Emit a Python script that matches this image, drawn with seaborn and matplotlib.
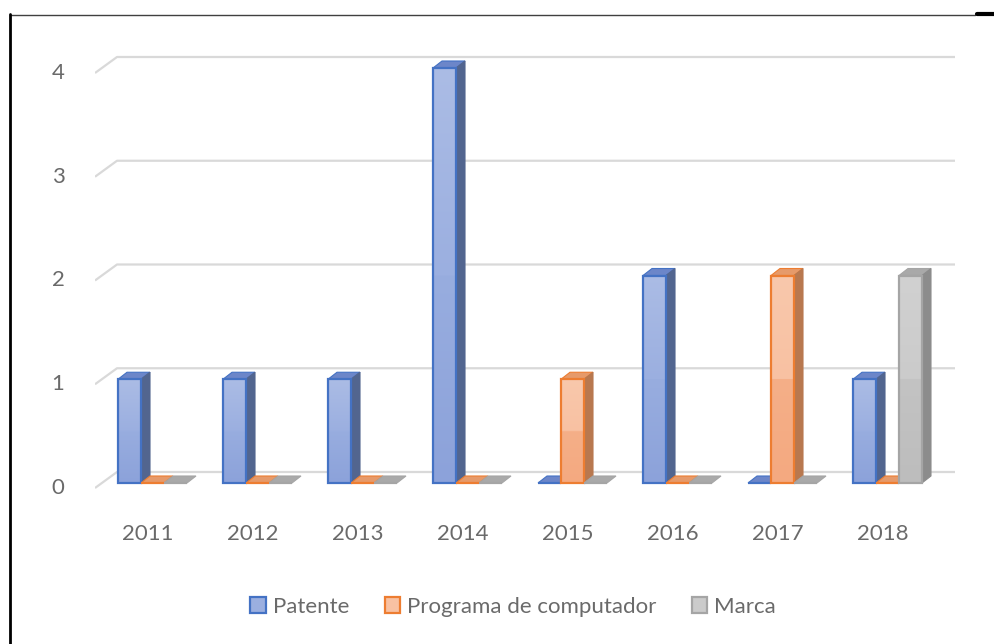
import matplotlib
matplotlib.use("Agg")
import matplotlib.pyplot as plt
import seaborn as sns
import pandas as pd
import numpy as np
from matplotlib.patches import Polygon, Patch
from matplotlib.lines import Line2D
from matplotlib.transforms import ScaledTranslation
from matplotlib.colors import to_rgb

# ---------------- data ----------------
years = ["2011", "2012", "2013", "2014", "2015", "2016", "2017", "2018"]
patente = [1, 1, 1, 4, 0, 2, 0, 1]
programa = [0, 0, 0, 0, 1, 0, 2, 0]
marca = [0, 0, 0, 0, 0, 0, 0, 2]
series_names = ["Patente", "Programa de computador", "Marca"]
y_ticks = [0, 1, 2, 3, 4]

df = pd.DataFrame({
    "Año": years * 3,
    "Valor": patente + programa + marca,
    "Tipo": [series_names[0]] * 8 + [series_names[1]] * 8 + [series_names[2]] * 8,
})

# ---------------- style ----------------
sns.set_style("white")
plt.rcParams["font.family"] = ["Lato", "DejaVu Sans"]
TXT = "#6a6a6a"

front = ["#9DB0E0", "#F6B690", "#C6C6C6"]
edges = ["#4472C4", "#ED7D31", "#A5A5A5"]
sides = ["#52658F", "#B8784F", "#8C8C8C"]
tops = ["#6C86C9", "#E69A6A", "#A9A9A9"]
# gradient stops: bottom, below-mid, above-mid, top
grad = [
    ["#8CA2DA", "#98ADDF", "#9BAFE0", "#ABBCE5"],
    ["#F4A980", "#F5AF88", "#F8C1A2", "#F9C8AC"],
    ["#BDBDBD", "#C3C3C3", "#CBCBCB", "#D1D1D1"],
]

W, H = 994, 644
fig = plt.figure(figsize=(W / 100, H / 100), dpi=100)

# geometry (pixels)
ax_left, ax_right = 95, 955
ax_top, ax_bot = 40, 500
y0_px = 483.0
px_per_y = 103.75
c0_px, step_px = 152.5, 105.0

xlim = ((ax_left - c0_px) / step_px, 7 + (ax_right - (c0_px + 7 * step_px)) / step_px)
ylim = (-(ax_bot - y0_px) / px_per_y, (y0_px - ax_top) / px_per_y)

ax = fig.add_axes([ax_left / W, 1 - ax_bot / H, (ax_right - ax_left) / W, (ax_bot - ax_top) / H])

sns.barplot(data=df, x="Año", y="Valor", hue="Tipo", palette=front, width=0.657,
            saturation=1, legend=False, ax=ax, zorder=3, linewidth=1.6, gap=0)

ax.set_xlim(*xlim)
ax.set_ylim(*ylim)

dx = 9 / step_px
dy = 7 / px_per_y


def gradient_img(stops, n=200):
    c = [np.array(to_rgb(s)) for s in stops]
    rows = []
    for k in range(n):
        t = k / (n - 1)  # 0 bottom, 1 top
        if t < 0.5:
            u = t / 0.5
            rows.append(c[0] * (1 - u) + c[1] * u)
        else:
            u = (t - 0.5) / 0.5
            rows.append(c[2] * (1 - u) + c[3] * u)
    arr = np.array(rows[::-1])[:, None, :]
    return arr


for i, cont in enumerate(ax.containers):
    for bar in cont:
        bar.set_edgecolor(edges[i])
        bar.set_facecolor("none")
        bar.set_zorder(5)
        x0, w, h = bar.get_x(), bar.get_width(), bar.get_height()
        top = Polygon([(x0, h), (x0 + w, h), (x0 + w + dx, h + dy), (x0 + dx, h + dy)],
                      closed=True, facecolor=tops[i], edgecolor=edges[i], lw=0.8, zorder=3)
        ax.add_patch(top)
        if h > 0:
            side = Polygon([(x0 + w, 0), (x0 + w + dx, dy), (x0 + w + dx, h + dy), (x0 + w, h)],
                           closed=True, facecolor=sides[i], edgecolor=sides[i], lw=0.8, zorder=3)
            ax.add_patch(side)
            ax.imshow(gradient_img(grad[i]), extent=(x0, x0 + w, 0, h), aspect="auto",
                      interpolation="bilinear", zorder=4)

# 3D-style gridlines (back wall + floor diagonal)
back_dx = 22 / step_px
back_dy = 11 / px_per_y
front_dy = -5 / px_per_y
for v in y_ticks:
    ax.plot([xlim[0], xlim[0] + back_dx, xlim[1]],
            [v + front_dy, v + back_dy, v + back_dy],
            color="#d9d9d9", lw=1.6, zorder=1, solid_capstyle="butt")

ax.set_xlim(*xlim)
ax.set_ylim(*ylim)
ax.set_aspect("auto")

for s in ax.spines.values():
    s.set_visible(False)
ax.grid(False)
ax.set_xlabel("")
ax.set_ylabel("")
ax.set_yticks(y_ticks)
ax.set_yticklabels([str(v) for v in y_ticks])
ax.tick_params(axis="y", length=0, pad=22, labelsize=16, labelcolor=TXT)
ax.tick_params(axis="x", length=0, pad=17, labelsize=16, labelcolor=TXT)
off = ScaledTranslation(-5 / 100, 0, fig.dpi_scale_trans)
for lab in ax.get_xticklabels():
    lab.set_transform(lab.get_transform() + off)
yoff = ScaledTranslation(0, -3 / 100, fig.dpi_scale_trans)
for lab in ax.get_yticklabels():
    lab.set_transform(lab.get_transform() + yoff)

# legend
handles = [Patch(facecolor=grad[i][2], edgecolor=edges[i], lw=1.6, label=series_names[i]) for i in range(3)]
fig.legend(handles=handles, loc="center", bbox_to_anchor=(513 / W, 1 - 607 / H), ncol=3,
           frameon=False, fontsize=16, labelcolor=TXT, handlelength=0.7, handleheight=0.7,
           handletextpad=0.3, columnspacing=1.6)

# chart border fragments
fig.add_artist(Line2D([10 / W, 975 / W], [1 - 15 / H, 1 - 15 / H], color="#404040", lw=1.0,
                      transform=fig.transFigure))
fig.add_artist(Line2D([10 / W, 10 / W], [1 - 14 / H, 0], color="black", lw=2.0,
                      transform=fig.transFigure))
fig.add_artist(Line2D([977 / W, 994 / W], [1 - 14 / H, 1 - 14 / H], color="black", lw=3.0,
                      transform=fig.transFigure))

fig.savefig("out.png", dpi=100)
